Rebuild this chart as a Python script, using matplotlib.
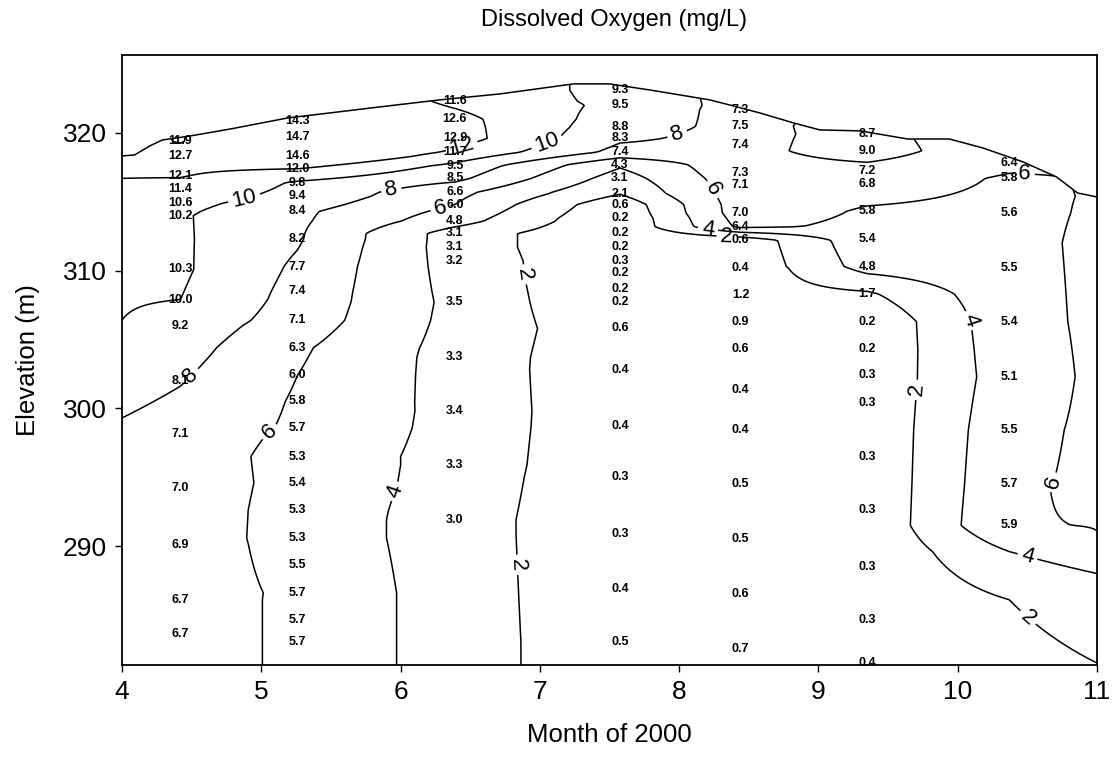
import numpy as np
import matplotlib
matplotlib.use("Agg")
import matplotlib.pyplot as plt
from matplotlib.patches import Polygon

plt.rcParams['font.family'] = ['Liberation Sans', 'DejaVu Sans']

# ---------------------------------------------------------------------------
# Profile stations: month of 2000 for each vertical DO profile
station_month = [4.42, 5.26, 6.39, 7.575, 8.44, 9.35, 10.37]

# Elevation (m) and dissolved oxygen (mg/L) for each profile
st1_elev = [319.4, 318.3, 316.9, 315.9, 314.9, 314.0, 310.1, 307.9, 306.0, 302.0, 298.1, 294.2, 290.1, 286.1, 283.6]
st1_do = [11.9, 12.7, 12.1, 11.4, 10.6, 10.2, 10.3, 10.0, 9.2, 8.1, 7.1, 7.0, 6.9, 6.7, 6.7]

st2_elev = [320.9, 319.7, 318.3, 317.4, 316.4, 315.4, 314.3, 312.3, 310.3, 308.5, 306.4, 304.4, 302.4,
            300.5, 298.6, 296.5, 294.6, 292.6, 290.6, 288.6, 286.6, 284.6, 283.0]
st2_do = [14.3, 14.7, 14.6, 12.0, 9.8, 9.4, 8.4, 8.2, 7.7, 7.4, 7.1, 6.3, 6.0,
          5.8, 5.7, 5.3, 5.4, 5.3, 5.3, 5.5, 5.7, 5.7, 5.7]

st3_elev = [322.3, 321.0, 319.6, 318.6, 317.6, 316.7, 315.7, 314.8, 313.6, 312.7, 311.7, 310.7,
            307.7, 303.7, 299.8, 295.9, 291.9]
st3_do = [11.6, 12.6, 12.9, 11.7, 9.5, 8.5, 6.6, 6.0, 4.8, 3.1, 3.1, 3.2,
          3.5, 3.3, 3.4, 3.3, 3.0]

st4_elev = [323.1, 322.0, 320.4, 319.6, 318.6, 317.7, 316.7, 315.6, 314.8, 313.8, 312.7, 311.7,
            310.7, 309.8, 308.7, 307.7, 305.8, 302.8, 298.7, 295.0, 290.9, 286.9, 283.0]
st4_do = [9.3, 9.5, 8.8, 8.3, 7.4, 4.3, 3.1, 2.1, 0.6, 0.2, 0.2, 0.2,
          0.3, 0.2, 0.2, 0.2, 0.6, 0.4, 0.4, 0.3, 0.3, 0.4, 0.5]

st5_elev = [321.7, 320.5, 319.1, 317.1, 316.2, 314.2, 313.2, 312.2, 310.2, 308.2, 306.3, 304.3,
            301.3, 298.4, 294.5, 290.5, 286.5, 282.5]
st5_do = [7.3, 7.5, 7.4, 7.3, 7.1, 7.0, 6.4, 0.6, 0.4, 1.2, 0.9, 0.6,
          0.4, 0.4, 0.5, 0.5, 0.6, 0.7]

st6_elev = [319.9, 318.7, 317.2, 316.3, 314.3, 312.3, 310.3, 308.3, 306.3, 304.3, 302.4, 300.4,
            296.5, 292.6, 288.5, 284.6, 281.5]
st6_do = [8.7, 9.0, 7.2, 6.8, 5.8, 5.4, 4.8, 1.7, 0.2, 0.2, 0.3, 0.3,
          0.3, 0.3, 0.3, 0.3, 0.4]

st7_elev = [317.8, 316.7, 314.2, 310.2, 306.3, 302.3, 298.4, 294.5, 291.5]
st7_do = [6.4, 5.8, 5.6, 5.5, 5.4, 5.1, 5.5, 5.7, 5.9]

# Gridded values below the deepest sample of the last profile and along the
# left / right frame edges (read from the contour crossings of the grid)
st7_floor_elev = [281.4, 286.1, 289.6]
st7_floor_do = [1.0, 2.0, 4.0]

edge_left_elev = [281.4, 299.3, 306.4, 314.0, 316.7, 318.3]
edge_left_do = [6.5, 8.0, 10.0, 10.8, 12.0, 12.6]

edge_right_elev = [281.5, 288.0, 291.1, 294.0, 312.0, 315.4]
edge_right_do = [2.0, 4.0, 6.0, 6.3, 6.3, 6.1]

# Water surface along the section (month, elevation m)
surface_month = [4.00, 4.09, 4.20, 4.29, 4.49, 4.78, 5.19, 5.49, 5.85, 6.28, 6.71, 7.24, 7.50,
                 7.79, 8.22, 8.39, 8.58, 8.82, 9.01, 9.30, 9.64, 9.94, 10.18, 10.47, 10.71,
                 10.86, 11.00]
surface_elev = [318.33, 318.40, 319.06, 319.49, 319.78, 320.29, 321.09, 321.45, 321.89, 322.40,
                322.83, 323.56, 323.56, 323.12, 322.40, 321.96, 321.45, 320.73, 320.22, 320.15,
                319.56, 319.56, 318.91, 317.89, 316.80, 315.64, 315.35]

contour_levels = [2, 4, 6, 8, 10, 12]

# ---------------------------------------------------------------------------
profiles = [
    (4.0, edge_left_elev, edge_left_do),
    (station_month[0], st1_elev, st1_do),
    (station_month[1], st2_elev, st2_do),
    (station_month[2], st3_elev, st3_do),
    (station_month[3], st4_elev, st4_do),
    (station_month[4], st5_elev, st5_do),
    (station_month[5], st6_elev, st6_do),
    (station_month[6], st7_floor_elev + st7_elev, st7_floor_do + st7_do),
    (11.0, edge_right_elev, edge_right_do),
]

y_min, y_max = 281.36, 325.66
xg = np.linspace(4.0, 11.0, 841)
yg = np.linspace(y_min, y_max, 601)

col_x = np.array([p[0] for p in profiles])
col_vals = []
for _, el, do in profiles:
    el = np.asarray(el, float)
    do = np.asarray(do, float)
    order = np.argsort(el)
    col_vals.append(np.interp(yg, el[order], do[order]))
col_vals = np.array(col_vals)

Z = np.array([np.interp(xg, col_x, col_vals[:, j]) for j in range(len(yg))])
X, Y = np.meshgrid(xg, yg)

# ---------------------------------------------------------------------------
fig = plt.figure(figsize=(11.15, 7.64), dpi=100)
ax = fig.add_axes([0.1094, 0.1296, 0.8745, 0.7984])

cs = ax.contour(X, Y, Z, levels=contour_levels, colors='k', linewidths=1.1)

water = Polygon(np.column_stack([surface_month + [11.0, 4.0],
                                 surface_elev + [y_min - 1, y_min - 1]]),
                closed=True, transform=ax.transData, facecolor='none', edgecolor='none')
ax.add_patch(water)
cs.set_clip_path(water)

ax.plot(surface_month, surface_elev, color='k', lw=1.1)

label_spots = [(4.88, 315.1), (4.49, 302.4), (5.0, 299.0), (5.94, 315.5), (6.28, 314.8),
               (6.43, 319.3), (7.04, 319.6), (6.79, 309.5), (5.98, 293.9), (6.75, 288.6),
               (7.97, 320.4), (8.24, 315.9), (8.21, 313.2), (8.34, 312.3), (10.09, 306.4),
               (9.76, 301.3), (10.62, 294.8), (10.50, 289.2), (10.52, 285.0), (10.48, 316.9)]
ax.clabel(cs, manual=label_spots, inline=True, fmt='%d', fontsize=16, inline_spacing=4)

# Sample values printed at their measurement points
obs = [(st1_elev, st1_do), (st2_elev, st2_do), (st3_elev, st3_do), (st4_elev, st4_do),
       (st5_elev, st5_do), (st6_elev, st6_do), (st7_elev, st7_do)]
for m, (el, do) in zip(station_month, obs):
    for e, v in zip(el, do):
        ax.text(m, e, f"{v:.1f}", ha='center', va='center', fontsize=9,
                fontweight='bold', color='k')

ax.set_xlim(4, 11)
ax.set_ylim(y_min, y_max)
ax.set_xticks(range(4, 12))
ax.set_yticks([290, 300, 310, 320])
ax.tick_params(direction='out', length=5, width=1, labelsize=19, pad=6)
for sp in ax.spines.values():
    sp.set_linewidth(1.3)

ax.set_xlabel("Month of 2000", fontsize=18.5)
ax.xaxis.label.set_va('center')
ax.xaxis.set_label_coords(0.5, -0.1147)
ax.set_ylabel("Elevation (m)", fontsize=18.5)
ax.yaxis.label.set_va('center')
ax.yaxis.set_label_coords(-0.0964, 0.5)
fig.text(0.5507, 0.9738, "Dissolved Oxygen (mg/L)", fontsize=17, ha='center', va='center')

fig.savefig("out.png", dpi=100)
